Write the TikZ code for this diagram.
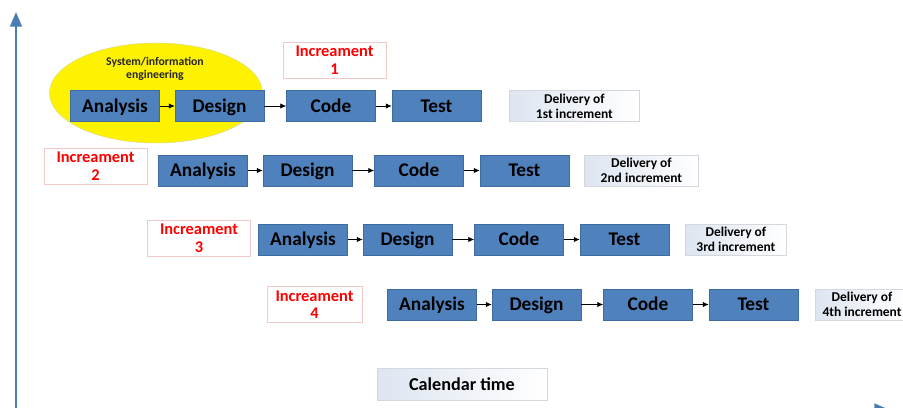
\documentclass[tikz,border=0pt]{standalone}
\usepackage{fontspec}
\setmainfont{Carlito}
\usepackage{tikz}
\usetikzlibrary{positioning}
\usetikzlibrary{shapes.geometric, arrows, arrows.meta}
\definecolor{phaseblue}{HTML}{4F81BD}
\definecolor{phaseedge}{HTML}{3E6C9E}
\definecolor{axisblue}{HTML}{4A7DB5}
\definecolor{incred}{HTML}{FF0000}
\definecolor{incedge}{HTML}{F3C8C8}
\definecolor{delshade}{HTML}{DDE5F0}
\definecolor{deledge}{HTML}{D4D8DE}
\definecolor{elledge}{HTML}{D8D890}
\tikzstyle{arrow} = [semithick,->,>={Latex[length=5pt,width=4.5pt]}]
\tikzstyle{axis} = [line width=2pt,draw=axisblue,-{Triangle[width=10pt,length=12.5pt]}]
\tikzstyle{phase} = [draw=phaseedge,fill=phaseblue,thin,minimum width=2.67cm,minimum height=0.93cm,text height=10.6pt,text depth=0pt,font=\fontsize{16.5}{18}\selectfont\bfseries]
\tikzstyle{inc} = [draw=incedge,fill=white,thin,text=incred,align=center,minimum height=1.08cm,inner sep=1pt,font=\fontsize{14}{15}\selectfont\bfseries]
\tikzstyle{deliv} = [draw=deledge,left color=delshade,right color=white,thin,align=center,minimum height=0.93cm,inner sep=1pt,font=\fontsize{11.5}{12.5}\selectfont\bfseries]

\begin{document}
\begin{tikzpicture}[x=0.03cm,y=-0.03cm]
					\useasboundingbox (0,0) rectangle (903,407);
					\clip (0,0) rectangle (903,407);
					
					%Axes
					\coordinate (origin) at (16,409.5);
					\coordinate (ytop) at (16,12);
					\coordinate (xend) at (889,409.5);
					\draw[axis] (origin) -- (ytop);
					\draw[axis] (origin) -- (xend);
					
					%Ellipse
					\node [ellipse,draw=elledge,fill=yellow,thin,minimum width=6.39cm,minimum height=3.0cm] (sysinfo) at (156,93) {};
					\node [align=center,font=\fontsize{10}{10.5}\selectfont\bfseries,text=black!85] (sysname) at (155,69) {System/information\\engineering};
					
					%Increment 1
					\node [phase] (Ana1) at (115,106) {Analysis};
					\node [phase, right=0.45cm of Ana1] (Des1) {Design};
					\node [phase, right=0.66cm of Des1] (Code1) {Code};
					\node [phase, right=0.48cm of Code1] (Test1) {Test};
					\node [deliv, minimum width=3.9cm, right=0.84cm of Test1] (Del1) {Delivery of\\1st increment};
					\node [inc, minimum width=3.09cm] (Inc1) at (334.5,60) {Increament\\1};
					
					%Increment 2
					\node [phase] (Ana2) at (203,170.5) {Analysis};
					\node [phase, right=0.45cm of Ana2] (Des2) {Design};
					\node [phase, right=0.66cm of Des2] (Code2) {Code};
					\node [phase, right=0.48cm of Code2] (Test2) {Test};
					\node [deliv, minimum width=3.42cm, right=0.45cm of Test2] (Del2) {Delivery of\\2nd increment};
					\node [inc, minimum width=3.09cm] (Inc2) at (95.5,166) {Increament\\2};
					
					%Increment 3
					\node [phase] (Ana3) at (303,239.5) {Analysis};
					\node [phase, right=0.45cm of Ana3] (Des3) {Design};
					\node [phase, right=0.66cm of Des3] (Code3) {Code};
					\node [phase, right=0.48cm of Code3] (Test3) {Test};
					\node [deliv, minimum width=3.03cm, right=0.48cm of Test3] (Del3) {Delivery of\\3rd increment};
					\node [inc, minimum width=3.09cm] (Inc3) at (199,238.5) {Increament\\3};
					
					%Increment 4
					\node [phase] (Ana4) at (432,304.5) {Analysis};
					\node [phase, right=0.45cm of Ana4] (Des4) {Design};
					\node [phase, right=0.66cm of Des4] (Code4) {Code};
					\node [phase, right=0.48cm of Code4] (Test4) {Test};
					\node [deliv, minimum width=2.8cm, right=0.51cm of Test4] (Del4) {Delivery of\\4th increment};
					\node [inc, minimum width=2.85cm] (Inc4) at (314.5,304.5) {Increament\\4};
					
					%Time
					\node [deliv, minimum width=5.1cm, minimum height=0.96cm, font=\fontsize{15.5}{17}\selectfont\bfseries] (cal) at (462,384) {Calendar time};
					
					%Lines
					\draw[arrow] (Ana1) -- (Des1);
					\draw[arrow] (Des1) -- (Code1);
					\draw[arrow] (Code1) -- (Test1);
					\draw[arrow] (Ana2) -- (Des2);
					\draw[arrow] (Des2) -- (Code2);
					\draw[arrow] (Code2) -- (Test2);
					\draw[arrow] (Ana3) -- (Des3);
					\draw[arrow] (Des3) -- (Code3);
					\draw[arrow] (Code3) -- (Test3);
					\draw[arrow] (Ana4) -- (Des4);
					\draw[arrow] (Des4) -- (Code4);
					\draw[arrow] (Code4) -- (Test4);
\end{tikzpicture}
\end{document}
